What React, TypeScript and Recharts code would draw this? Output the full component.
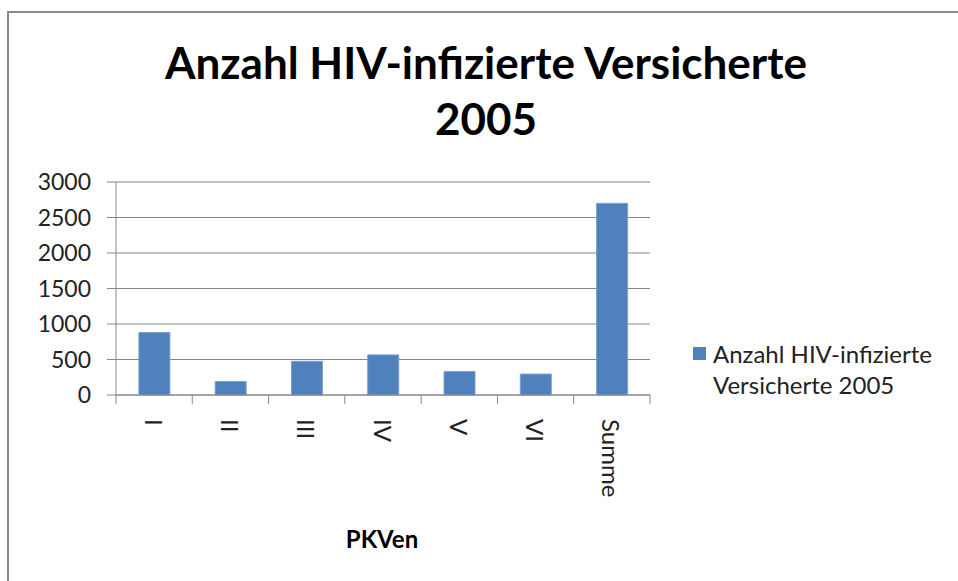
import React from "react";
import { BarChart, Bar, XAxis, YAxis, CartesianGrid, Legend } from "recharts";

const categories = ["I", "II", "III", "IV", "V", "VI", "Summe"];
const values = [880, 190, 475, 565, 330, 295, 2700];
const yTicks = [0, 500, 1000, 1500, 2000, 2500, 3000];
const seriesName = "Anzahl HIV-infizierte Versicherte 2005";

const data = categories.map((name, i) => ({ name, value: values[i] }));

const FONT = "Lato, 'Open Sans', sans-serif";
const GRID = "#868686";

function CategoryTick(props: any) {
    const { x, y, width, payload, index } = props;
    const band = width / categories.length;
    const left = x - band / 2;
    const right = x + band / 2;
    const ty = y + 24;
    return (
        <g>
            <line x1={left} y1={y} x2={left} y2={y + 9} stroke={GRID} />
            {index === categories.length - 1 && (
                <line x1={right} y1={y} x2={right} y2={y + 9} stroke={GRID} />
            )}
            <text
                x={x}
                y={ty}
                transform={`rotate(90, ${x}, ${ty})`}
                textAnchor="start"
                dominantBaseline="central"
                fontFamily={FONT}
                fontSize={24}
                fill="#222"
            >
                {payload.value}
            </text>
        </g>
    );
}

function renderLegend({ payload }: any) {
    return (
        <div>
            {(payload || []).map((entry: any, i: number) => (
                <div key={`leg-${i}`} style={{ display: "flex", alignItems: "flex-start" }}>
                    <span
                        style={{
                            display: "inline-block",
                            width: 13,
                            height: 13,
                            background: entry.color,
                            marginTop: 9,
                            marginRight: 7,
                            flex: "none",
                        }}
                    />
                    <span
                        style={{
                            fontFamily: FONT,
                            fontSize: 24,
                            lineHeight: "31px",
                            color: "#222",
                            width: 240,
                        }}
                    >
                        {entry.value}
                    </span>
                </div>
            ))}
        </div>
    );
}

export default function App() {
    return (
        <div style={{ position: "absolute", left: 0, top: 0, width: 958, height: 581, background: "#fff", overflow: "hidden" }}>
            <div
                style={{
                    position: "absolute",
                    left: 7,
                    top: 11,
                    width: 1000,
                    height: 600,
                    borderLeft: "2px solid #8a8a8a",
                    borderTop: "2px solid #8a8a8a",
                }}
            />
            <div
                style={{
                    position: "absolute",
                    left: 86,
                    width: 800,
                    top: 34,
                    textAlign: "center",
                    fontFamily: FONT,
                    fontWeight: 700,
                    fontSize: 44,
                    lineHeight: "56px",
                    color: "#000",
                }}
            >
                Anzahl HIV-infizierte Versicherte
                <br />
                2005
            </div>
            <BarChart
                width={958}
                height={581}
                data={data}
                margin={{ top: 182, right: 308, bottom: 0, left: 0 }}
                barCategoryGap="30%"
            >
                <CartesianGrid vertical={false} stroke={GRID} />
                <XAxis
                    dataKey="name"
                    height={186}
                    axisLine={{ stroke: GRID }}
                    tickLine={false}
                    tickSize={0}
                    tickMargin={0}
                    interval={0}
                    tick={<CategoryTick />}
                />
                <YAxis
                    width={116}
                    domain={[0, 3000]}
                    ticks={yTicks}
                    interval={0}
                    axisLine={{ stroke: GRID }}
                    tickLine={{ stroke: GRID }}
                    tickSize={9}
                    tickMargin={16}
                    tick={{ fontFamily: FONT, fontSize: 23, fill: "#222" }}
                />
                <Legend
                    layout="vertical"
                    align="center"
                    verticalAlign="middle"
                    wrapperStyle={{ left: 693, top: 338, width: 262 }}
                    content={renderLegend}
                />
                <Bar dataKey="value" name={seriesName} fill="#4f81bd" stroke="#7d9fcf" strokeWidth={1} isAnimationActive={false} />
            </BarChart>
            <div
                style={{
                    position: "absolute",
                    left: 282,
                    width: 200,
                    top: 524,
                    textAlign: "center",
                    fontFamily: FONT,
                    fontWeight: 700,
                    fontSize: 24,
                    color: "#000",
                }}
            >
                PKVen
            </div>
        </div>
    );
}
